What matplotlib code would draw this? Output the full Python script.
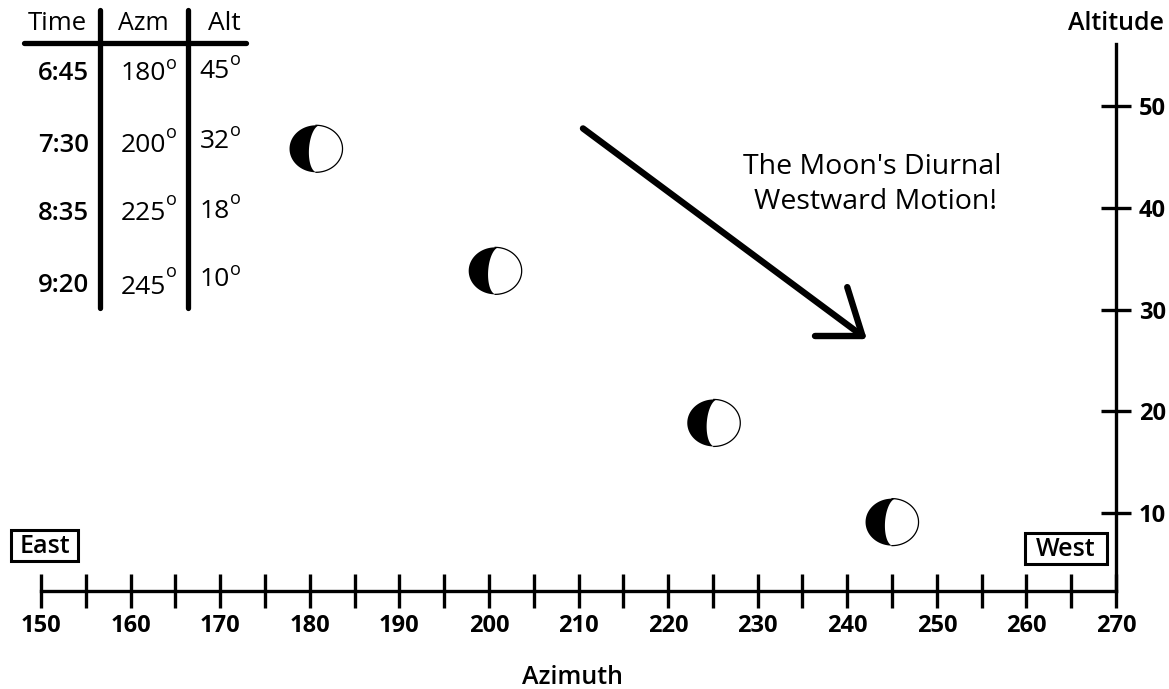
import numpy as np
import matplotlib
matplotlib.use('Agg')
import matplotlib.pyplot as plt
from matplotlib.lines import Line2D
from matplotlib.patches import Rectangle
from matplotlib.transforms import Affine2D

W, H = 1169, 689
plt.rcParams['font.family'] = ['Open Sans', 'DejaVu Sans']

# ---------- Data ----------
moon_az = [180.7, 200.7, 225.1, 245.0]
moon_alt = [45.8, 33.8, 18.85, 9.1]

times = ['6:45', '7:30', '8:35', '9:20']
azm_labels = ['180', '200', '225', '245']
alt_labels = ['45', '32', '18', '10']

x_major = [150, 160, 170, 180, 190, 200, 210, 220, 230, 240, 250, 260, 270]
x_minor = [155, 165, 175, 185, 195, 205, 215, 225, 235, 245, 255, 265]
y_major = [10, 20, 30, 40, 50]

arrow_az = [210.5, 241.7]
arrow_alt = [47.8, 27.4]

# ---------- Figure / axes ----------
fig = plt.figure(figsize=(W / 100, H / 100), dpi=100)
ax = fig.add_axes([41 / W, 1 - 591 / H, (1116 - 41) / W, (591 - 44) / H])
ax.set_xlim(150, 270)
ax.set_ylim(2.33, 56.1)

# pixel coords, y going down, for the table and the boxes
px = Affine2D().scale(1 / W, -1 / H).translate(0, 1) + fig.transFigure


def txt(x, y, s, size=16, weight='normal', ha='center'):
    fig.text(x, y, s, transform=px, fontsize=size, fontweight=weight,
             ha=ha, va='center', color='black')


def line(xs, ys, lw):
    fig.add_artist(Line2D(xs, ys, transform=px, color='black', lw=lw,
                          solid_capstyle='round'))


# ---------- Axes ----------
for side in ['top', 'left']:
    ax.spines[side].set_visible(False)
for side in ['bottom', 'right']:
    ax.spines[side].set_linewidth(2.4)
ax.patch.set_alpha(0)

ax.set_xticks(x_major)
ax.set_xticks(x_minor, minor=True)
ax.tick_params(axis='x', which='both', direction='inout', length=24.5, width=2.4, pad=4)
ax.set_yticks(y_major)
ax.yaxis.tick_right()
ax.tick_params(axis='y', direction='inout', length=21, width=2.4, pad=6)
for lab in ax.get_xticklabels() + ax.get_yticklabels():
    lab.set_fontsize(17)
    lab.set_fontweight('bold')

txt(573, 677, 'Azimuth', size=18, weight='semibold')
txt(1116, 24, 'Altitude', size=18, weight='semibold')

# ---------- Moons ----------
rx = 26.5 * 120 / 1075   # half width in azimuth units
ry = 23.5 * 53.77 / 547  # half height in altitude units
t = np.linspace(-np.pi / 2, np.pi / 2, 80)
full = np.linspace(0, 2 * np.pi, 160)
for az, alt in zip(moon_az, moon_alt):
    ax.fill(az + rx * np.cos(full), alt + ry * np.sin(full), color='black', lw=0, zorder=3)
    # lit part: right half plus a bulge to the left, terminator leaning right at the top
    lit_x = np.r_[az + rx * np.cos(t),
                  az + rx * (0.095 + 0.057 * np.sin(t[::-1]) - 0.36 * np.cos(t[::-1]))]
    lit_y = np.r_[alt + ry * np.sin(t), alt + ry * np.sin(t[::-1])]
    ax.fill(lit_x, lit_y, facecolor='white', edgecolor='none', zorder=4)
    ax.plot(az + rx * np.cos(t), alt + ry * np.sin(t), color='black', lw=0.9, zorder=5)

# ---------- Arrow ----------
ax.plot(arrow_az, arrow_alt, color='black', lw=4.6, solid_capstyle='round', zorder=3)
tip_az, tip_alt = arrow_az[1], arrow_alt[1]
ax.plot([tip_az - 5.3, tip_az], [tip_alt, tip_alt], color='black', lw=4.6,
        solid_capstyle='round', zorder=3)
ax.plot([tip_az - 1.7, tip_az], [tip_alt + 4.8, tip_alt], color='black', lw=4.6,
        solid_capstyle='round', zorder=3)

txt(872, 167, "The Moon's Diurnal", size=20.5)
txt(876, 202, 'Westward Motion!', size=20.5)

# ---------- East / West boxes ----------
for x0, y0, x1, y1, s in [(11, 530, 78, 561, 'East'), (1025, 533, 1107, 564, 'West')]:
    fig.add_artist(Rectangle((x0, y0), x1 - x0, y1 - y0, transform=px, fill=False,
                             edgecolor='black', lw=2.2))
    txt((x0 + x1) / 2, (y0 + y1) / 2 + 1, s, size=18, weight='semibold')

# ---------- Table ----------
line([100, 100], [10, 308], 3.8)
line([188, 188], [10, 308], 3.8)
line([24, 246], [43, 43], 3.8)

txt(57, 24, 'Time', size=18.5)
txt(143, 24, 'Azm', size=18)
txt(224, 24, 'Alt', size=19)

time_y = [74, 145, 214, 285]
azm_y = [74, 145, 214, 287]
azm_o_y = [64, 133, 200, 272]
alt_y = [72, 142, 212, 280]
alt_o_y = [60, 131, 199, 270]
for i in range(4):
    txt(89, time_y[i], times[i], size=18.5, weight='semibold', ha='right')
    txt(166, azm_y[i], azm_labels[i], size=19, ha='right')
    txt(171, azm_o_y[i], 'o', size=13)
    txt(230, alt_y[i], alt_labels[i], size=19, ha='right')
    txt(235, alt_o_y[i], 'o', size=13)

fig.savefig('out.png', dpi=100)
